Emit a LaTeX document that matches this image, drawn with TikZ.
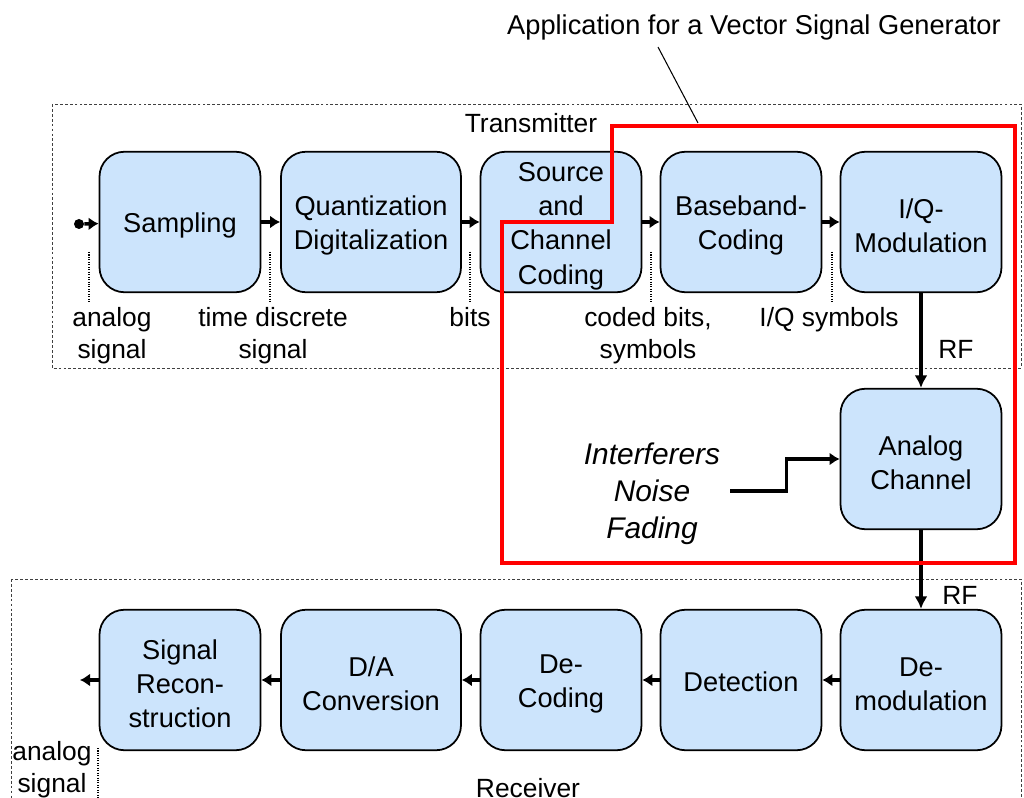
\documentclass[tikz,border=0pt]{standalone}
\usepackage{fontspec}
\setmainfont{Liberation Sans}
\usetikzlibrary{arrows.meta,calc}
\definecolor{boxblue}{RGB}{204,228,252}
\newcommand{\lift}{\rule{0pt}{15.6pt}}

\begin{document}
\begin{tikzpicture}
  [x=0.2mm,y=-0.2mm,
   font=\fontsize{15.5}{19.4}\selectfont,
   block/.style={rectangle,rounded corners=5mm,draw=black,fill=boxblue,line width=1pt,
                 align=center,inner sep=1pt,minimum width=32.2mm,minimum height=28.1mm},
   wideblock/.style={block,minimum width=36mm},
   link/.style={-{Latex[length=2mm,width=2.6mm]},line width=2pt},
   rf/.style={-{Latex[length=2.5mm,width=2.6mm]},line width=2.4pt},
   groupframe/.style={draw=black!75,line width=0.5pt,dash pattern=on 1.6pt off 1.2pt},
   probe/.style={line width=0.6pt,dash pattern=on 0.6pt off 0.8pt},
   note/.style={align=center,inner sep=0pt,font=\fontsize{15}{18}\selectfont},
   vsg/.style={draw=red,line width=2.3pt}]
  \useasboundingbox (0,0) rectangle (1024,798);
  % \draw[help lines,step=100] (0,0) grid (1024,798);

  \draw[groupframe] (52,104) rectangle (1021,368);
  \draw[groupframe] (11,579) rectangle (1021,820);
  \node[note,anchor=base] (tx) at (531,133) {Transmitter};
  \node[note,anchor=base] (rx) at (528,797) {Receiver};

  % transmitter chain
  \node[block]     (sampling) at (180,222) {\lift Sampling};
  \node[wideblock] (quant)    at (371,222) {\lift Quantization\\Digitalization};
  \node[block]     (coding)   at (561,222) {\lift Source\\and\\Channel\\Coding};
  \node[block]     (baseband) at (741,222) {\lift Baseband-\\Coding};
  \node[block]     (iqmod)    at (921,222) {\lift I/Q-\\Modulation};
  \node[block]     (channel)  at (921,459) {\lift Analog\\Channel};
  % receiver chain
  \node[block]     (demod)    at (921,680) {\lift De-\\modulation};
  \node[block]     (detect)   at (741,680) {\rule{0pt}{13pt}Detection};
  \node[block]     (decoding) at (561,680) {\lift De-\\Coding};
  \node[wideblock] (dac)      at (371,680) {\lift D/A\\Conversion};
  \node[block]     (recon)    at (180,680) {\lift Signal\\Recon-\\struction};

  \node[circle,fill=black,inner sep=0pt,minimum size=2mm] (input) at (79,224) {};
  \coordinate (output) at (80,680);

  \draw[link] (input) -- (sampling);
  \draw[link] (sampling) -- (quant);
  \draw[link] (quant) -- (coding);
  \draw[link] (coding) -- (baseband);
  \draw[link] (baseband) -- (iqmod);
  \draw[rf]   (iqmod) -- (channel);
  \draw[rf]   (channel) -- (demod);
  \draw[link] (demod) -- (detect);
  \draw[link] (detect) -- (decoding);
  \draw[link] (decoding) -- (dac);
  \draw[link] (dac) -- (recon);
  \draw[link] (recon) -- (output);

  % signal names
  \foreach \x in {89,270,470,651,832}
    \draw[probe] (\x,252) -- (\x,302);
  \draw[probe] (98,748) -- (98,800);
  \node[note] (ana)   at (112,336) {analog\\signal};
  \node[note] (tds)   at (273,336) {time discrete\\signal};
  \node[note,anchor=base] (bits) at (470,327) {bits};
  \node[note] (coded) at (648,336) {coded bits,\\symbols};
  \node[note,anchor=base] (iqs) at (829,327) {I/Q symbols};
  \node[note,anchor=base] (rftx) at (956,359) {RF};
  \node[note,anchor=base] (rfrx) at (960,604) {RF};
  \node[note] (anaout) at (52,770) {analog\\signal};

  \node[align=center,inner sep=0pt,font=\fontsize{17}{21}\selectfont\itshape]
       (interf) at (652,494) {Interferers\\Noise\\Fading};
  \draw[link,line width=2pt] ($(interf.east)+(10,-3)$) -- ++(56,0) |- (channel.west);

  % part covered by the generator
  \draw[vsg] (612,126) -- (1015,126) -- (1015,563) -- (502,563) -- (502,222) -- (612,222) -- cycle;
  \node[note,anchor=base,font=\fontsize{15.5}{19}\selectfont] (title) at (754,35)
       {Application for a Vector Signal Generator};
  \coordinate (ptr) at (698,123);
  \draw[line width=0.6pt] ($(title.south)+(-96,6)$) -- (ptr);
\end{tikzpicture}
\end{document}
